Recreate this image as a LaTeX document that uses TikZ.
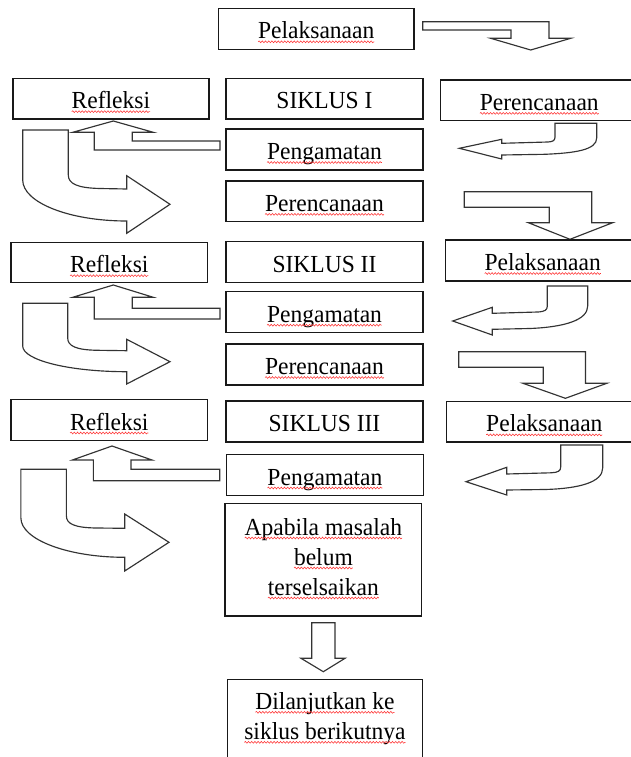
\documentclass[tikz,border=0pt]{standalone}
\usepackage{fontspec}
\setmainfont{Liberation Serif}[FakeStretch=0.96]
\usetikzlibrary{fit,decorations.pathmorphing}
\newcommand\mybox[6]{%
  \coordinate (#1-nw) at (#2,#3);
  \coordinate (#1-se) at (#4,#5);
  \node[box, fit=(#1-nw)(#1-se)] (#1) {};
  \node[lbl] (#1-t) at ([yshift=-10bp]#1.center) {#6};}
\newcommand\sq[1]{\draw[squig] ([yshift=-3bp]#1.base west) -- ([yshift=-3bp]#1.base east);}
\begin{document}
\begin{tikzpicture}[x=1bp,y=-1bp,
  box/.style={draw=black!90, line width=1.4bp, rectangle, inner sep=0pt, outer sep=0pt, fill=white},
  lbl/.style={anchor=base, inner sep=0pt, outer sep=0pt, font=\fontsize{24.5bp}{28bp}\selectfont, text=black},
  arr/.style={draw=black!80, line width=1.15bp, fill=white, line join=miter},
  squig/.style={draw=red!80, line width=0.55bp, decorate, decoration={snake, segment length=3.2bp, amplitude=0.9bp}}]
\useasboundingbox (0,0) rectangle (631,757);
\clip (0,0) rectangle (631,757);

% ---------- right-hand bent arrows ----------
\draw[arr] (422.7,21.7) -- (549,21.7) -- (549,38.3) -- (570.7,38.3) -- (530.7,50) -- (490.7,38.3) -- (511,38.3) -- (511,30) -- (422.7,30) -- cycle;
\draw[arr] (464.3,191.7) -- (591.7,191.7) -- (591.7,222.7) -- (612.7,222.7) -- (570,239.3) -- (528.3,222.7) -- (549.3,222.7) -- (549.3,207.3) -- (464.3,207.3) -- cycle;
\draw[arr] (458.8,351.7) -- (585.5,351.7) -- (585.5,383.3) -- (606.8,383.3) -- (565.4,398.3) -- (523,383.3) -- (543.3,383.3) -- (543.3,367.3) -- (458.8,367.3) -- cycle;

% ---------- right-hand curved arrows ----------
\draw[arr] (555,123.3) -- (596.7,123.3) -- (596.7,138) .. controls (596.7,150) and (575,153) .. (545,154.3) -- (501.7,155) -- (501.7,159) -- (459.3,148.3) -- (501.7,139.3) -- (501.7,143.3) -- (548,142) .. controls (553,141.7) and (555,140.5) .. (555,137) -- cycle;
\draw[arr] (547.3,286) -- (587.7,286) -- (587.7,306) .. controls (587.7,320) and (565,327) .. (530,328.5) -- (492.3,329.3) -- (492.3,335) -- (452.7,321) -- (492.3,307.3) -- (492.3,313.3) -- (538,312) .. controls (545,311.5) and (547.3,310) .. (547.3,306) -- cycle;
\draw[arr] (560.7,445) -- (602.7,445) -- (602.7,468) .. controls (602.7,482) and (580,488.5) .. (545,489.5) -- (506.7,490) -- (506.7,495) -- (466,481.7) -- (506.7,467.3) -- (506.7,474) -- (551,472.8) .. controls (558,472.5) and (560.7,471) .. (560.7,467) -- cycle;

% ---------- left-hand bent-up arrows ----------
\draw[arr] (113.3,121) -- (153.3,132.3) -- (132.3,132.3) -- (132.3,141) -- (220,141) -- (220,150) -- (94.3,150) -- (94.3,132.3) -- (72.7,132.3) -- cycle;
\draw[arr] (113.3,285) -- (153.3,297.3) -- (132.3,297.3) -- (132.3,308.3) -- (220,308.3) -- (220,319) -- (94.3,319) -- (94.3,297.3) -- (72.7,297.3) -- cycle;
\draw[arr] (112,446) -- (152,460) -- (131,460) -- (131,469.3) -- (219.7,469.3) -- (219.7,480.7) -- (93.4,480.7) -- (93.4,460) -- (72.4,460) -- cycle;

% ---------- left-hand curved arrows ----------
\draw[arr] (22.7,130) -- (68.3,130) -- (68.3,175) .. controls (68.3,184) and (78,188) .. (100,188.5) -- (126.7,189) -- (126.7,175.7) -- (170,204.3) -- (126.7,233.3) -- (126.7,221) .. controls (69.3,221) and (22.7,202.6) .. (22.7,180) -- cycle;
\draw[arr] (22.7,303.3) -- (67.7,303.3) -- (67.7,338) .. controls (67.7,346) and (76,350) .. (98,350.3) -- (126.7,350.7) -- (126.7,339.3) -- (170,361.7) -- (126.7,384) -- (126.7,371.7) .. controls (69.3,371.7) and (22.7,360.2) .. (22.7,346) -- cycle;
\draw[arr] (20.9,469.3) -- (66.4,469.3) -- (66.4,516) .. controls (66.4,524) and (75,527.8) .. (97,528) -- (124.7,528.3) -- (124.7,514) -- (169,542.3) -- (124.7,571) -- (124.7,557.3) .. controls (67.6,557.3) and (20.9,539.5) .. (20.9,518) -- cycle;

% ---------- down arrow ----------
\draw[arr] (311.7,622.7) -- (335,622.7) -- (335,658.3) -- (345,658.3) -- (323.3,671.7) -- (301,658.3) -- (311.7,658.3) -- cycle;

% ---------- boxes ----------
\mybox{pel0}{218.5}{8.3}{414}{49.3}{Pelaksanaan}
\mybox{ref1}{12.9}{78.3}{208.9}{119}{Refleksi}
\mybox{sik1}{226}{78.3}{423}{119}{SIKLUS I}
\mybox{per1r}{440.6}{80}{638}{120.7}{Perencanaan}
\mybox{pen1}{226}{129}{423}{170}{Pengamatan}
\mybox{per1c}{226}{181}{423}{221.7}{Perencanaan}
\mybox{ref2}{11}{242.7}{207.6}{282.7}{Refleksi}
\mybox{sik2}{226}{241.7}{423}{282.7}{SIKLUS II}
\mybox{pel2r}{445.5}{240}{640}{281}{Pelaksanaan}
\mybox{pen2}{226}{291.7}{423}{332.7}{Pengamatan}
\mybox{per2c}{226}{344}{423}{385}{Perencanaan}
\mybox{ref3}{11}{399.3}{207.6}{440.7}{Refleksi}
\mybox{sik3}{226}{401}{423}{442}{SIKLUS III}
\mybox{pel3r}{446.7}{401.7}{642}{442}{Pelaksanaan}
\mybox{pen3}{226.6}{454.7}{423.3}{495.3}{Pengamatan}

\coordinate (apa-nw) at (225,503.3);
\coordinate (apa-se) at (421.7,616);
\node[box, fit=(apa-nw)(apa-se)] (apa) {};
\node[lbl] (apa-t1) at (323.4,535) {Apabila masalah};
\node[lbl] (apa-t2) at (323.4,565) {belum};
\node[lbl] (apa-t3) at (323.4,595) {terselsaikan};

\coordinate (dil-nw) at (227.3,679.3);
\coordinate (dil-se) at (422.7,775);
\node[box, fit=(dil-nw)(dil-se)] (dil) {};
\node[lbl] (dil-t1) at (325,709.3) {Dilanjutkan ke};
\node[lbl] (dil-t2) at (325,739.3) {siklus berikutnya};

% ---------- spell-check underlines ----------
\foreach \n in {pel0-t,ref1-t,per1r-t,pen1-t,per1c-t,ref2-t,pel2r-t,pen2-t,per2c-t,ref3-t,pel3r-t,pen3-t,apa-t1,apa-t2,apa-t3,dil-t1,dil-t2}{\sq{\n}}
\end{tikzpicture}
\end{document}
